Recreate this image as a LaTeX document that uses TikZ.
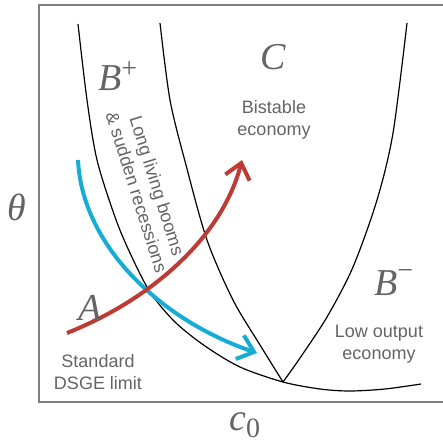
\documentclass[tikz,border=0pt]{standalone}
\usepackage{fontspec}
\setmainfont{Liberation Sans}
\newfontfamily\lblfont{Liberation Serif}
\usetikzlibrary{arrows.meta}
\definecolor{FrameGray}{RGB}{128,128,128}
\definecolor{TextGray}{RGB}{100,100,100}
\definecolor{FlowRed}{RGB}{190,58,52}
\definecolor{FlowBlue}{RGB}{22,172,214}
\newcommand{\supsign}[2]{\raisebox{#1}{\fontsize{28}{30}\selectfont\upshape #2}}

\begin{document}
\begin{tikzpicture}[x=1pt, y=-1pt,
    region/.style={font=\fontsize{38}{40}\selectfont\lblfont\itshape, text=TextGray, inner sep=0pt, anchor=base west},
    note/.style={font=\fontsize{18}{21.5}\selectfont, text=TextGray, align=center, inner sep=0pt},
    border/.style={line width=1.2pt},
    flow/.style={line width=4pt, -{Straight Barb[length=15pt, width=25pt]}}]
    \useasboundingbox (0,0) rectangle (443,444);

    % Axes
    \draw[FrameGray, line width=1.8pt] (443,5) -- (39,5) -- (39,402) -- (443,402);
    \node[region] (theta) at (7,220) {θ};
    \node[region] (c0) at (229,430) {c\supsign{-7pt}{0}};

    % Phase boundaries
    \coordinate (cusp) at (283,382);
    \draw[border] plot[smooth] coordinates {(78,24) (87,100) (97,160) (115,217) (130,253) (150,292) (175,322) (205,346) (240,367) (283,382) (320,389) (350,391) (385,389) (421,384)};
    \draw[border] plot[smooth] coordinates {(160,23) (170,100) (186,165) (207,240) (233,300) (260,345) (283,382)};
    \draw[border] plot[smooth] coordinates {(283,382) (300,358) (327,317) (353,267) (377,200) (393,133) (407,23)};

    % Flows
    \draw[flow, FlowBlue] (78,160) .. controls (82,245) and (160,320) .. (257,353);
    \draw[flow, FlowRed] (67,333) .. controls (150,300) and (222,238) .. (242,160);

    % Regions
    \node[region] (Bplus) at (98,90) {B\supsign{13pt}{+}};
    \node[region] (C) at (260,70) {C};
    \node[region] (A) at (78,320) {A};
    \node[region] (Bminus) at (374,295) {B\supsign{16pt}{−}};

    \node[note] (bistable) at (274,120) {Bistable\\economy};
    \node[note] (dsge) at (98,372) {Standard\\DSGE limit};
    \node[note] (lowout) at (379,344) {Low output\\economy};
    \node[note, rotate=-72.5] (booms) at (147,189) {Long living booms\\\& sudden recessions};
\end{tikzpicture}
\end{document}
